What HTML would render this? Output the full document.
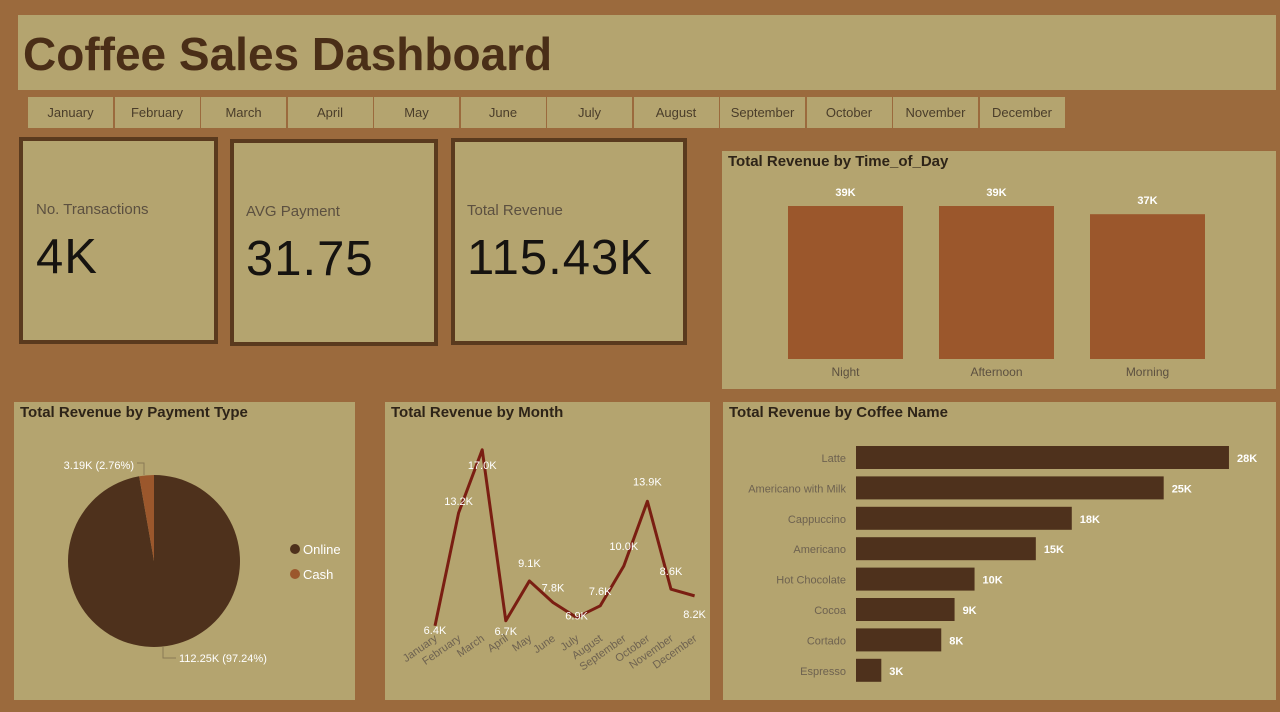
<!DOCTYPE html>
<html><head><meta charset="utf-8">
<style>
body{margin:0;width:1280px;height:712px;background:#9b6a3d;font-family:"Liberation Sans","DejaVu Sans",sans-serif;position:relative;overflow:hidden}
.p{position:absolute;background:#b4a46f;box-sizing:border-box}
.t{position:absolute;font-size:15px;color:#2e2418;font-weight:bold;left:6px;top:2px}
.kpi{position:absolute;background:#b4a46f;border:4px solid #5a3a1e;box-sizing:border-box}
.kl{position:absolute;font-size:15px;color:#5c5040}
.kv{position:absolute;font-size:49px;color:#161310;font-family:"Liberation Sans",sans-serif;transform:scaleX(1.0);transform-origin:left top;letter-spacing:1px}
.mb{position:absolute;top:97px;height:31px;width:85px;background:#b4a46f;font-size:13px;color:#4a3d2a;text-align:center;line-height:31px}
svg text{font-family:"Liberation Sans",sans-serif}
</style></head><body>
<div class="p" style="left:18px;top:15px;width:1258px;height:75px">
<div style="position:absolute;left:5px;top:12px;font-size:46px;font-weight:bold;color:#4a2e17">Coffee Sales Dashboard</div></div>
<div id="months"></div>
<div class="kpi" style="left:19px;top:137px;width:199px;height:207px"><div class="kl" style="left:13px;top:60px">No. Transactions</div><div class="kv" style="left:13px;top:88px">4K</div></div>
<div class="kpi" style="left:230px;top:139px;width:208px;height:207px"><div class="kl" style="left:12px;top:60px">AVG Payment</div><div class="kv" style="left:12px;top:88px">31.75</div></div>
<div class="kpi" style="left:451px;top:138px;width:236px;height:207px"><div class="kl" style="left:12px;top:60px">Total Revenue</div><div class="kv" style="left:12px;top:88px">115.43K</div></div>

<div class="p" style="left:722px;top:151px;width:554px;height:238px"><div class="t">Total Revenue by Time_of_Day</div></div>
<div class="p" style="left:14px;top:402px;width:341px;height:298px"><div class="t">Total Revenue by Payment Type</div></div>
<div class="p" style="left:385px;top:402px;width:325px;height:298px"><div class="t">Total Revenue by Month</div></div>
<div class="p" style="left:723px;top:402px;width:553px;height:298px"><div class="t">Total Revenue by Coffee Name</div></div>

<svg id="chart" width="1280" height="712" style="position:absolute;left:0;top:0"></svg>
<script>
const monthNames=["January","February","March","April","May","June","July","August","September","October","November","December"];
const todCats=["Night","Afternoon","Morning"];
const todVals=[39.2,39.2,37.1];
const todLabels=["39K","39K","37K"];
const payCats=["Online","Cash"];
const payVals=[112.25,3.19];
const payLabels=["112.25K (97.24%)","3.19K (2.76%)"];
const monthVals=[6.4,13.2,17.0,6.7,9.1,7.8,6.9,7.6,10.0,13.9,8.6,8.2];
const monthLabels=["6.4K","13.2K","17.0K","6.7K","9.1K","7.8K","6.9K","7.6K","10.0K","13.9K","8.6K","8.2K"];
const coffeeCats=["Latte","Americano with Milk","Cappuccino","Americano","Hot Chocolate","Cocoa","Cortado","Espresso"];
const coffeeVals=[28,23.1,16.2,13.5,8.9,7.4,6.4,1.9];
const coffeeLabels=["28K","25K","18K","15K","10K","9K","8K","3K"];

const NS="http://www.w3.org/2000/svg",svg=document.getElementById('chart');
function mk(tag,attrs,text){const e=document.createElementNS(NS,tag);for(const k in attrs)e.setAttribute(k,attrs[k]);if(text!==undefined)e.textContent=text;svg.appendChild(e);return e;}

const mc=document.getElementById('months');
monthNames.forEach((m,i)=>{const d=document.createElement('div');d.className='mb';d.style.left=(28+i*86.5)+'px';d.textContent=m;


mc.appendChild(d);});

const todY=v=>359-v*(153/39.2);
todCats.forEach((c,i)=>{const x=788+i*151;
const r=mk('rect',{x:x,y:todY(todVals[i]),width:115,height:359-todY(todVals[i]),fill:'#9b572c'});


const l=mk('text',{x:x+57.5,y:todY(todVals[i])-10,'font-size':11,fill:'#fff','text-anchor':'middle','font-weight':'bold'},todLabels[i]);


const t=mk('text',{x:x+57.5,y:376,'font-size':12,fill:'#5c5040','text-anchor':'middle'},c);

});

const cx=154,cy=561,R=86,tot=payVals.reduce((a,b)=>a+b,0);const cols=['#4e311c','#9b572c'];
let a0=0;payVals.forEach((v,i)=>{const a1=a0+v/tot*2*Math.PI;
const p=(a)=>[cx+R*Math.sin(a),cy-R*Math.cos(a)];const s=p(a0),e=p(a1);
const path=mk('path',{d:`M${cx},${cy}L${s[0]},${s[1]}A${R},${R} 0 ${a1-a0>Math.PI?1:0} 1 ${e[0]},${e[1]}Z`,fill:cols[i]});


a0=a1;});
mk('polyline',{points:'144,475 144,463 137,463',fill:'none',stroke:'#8a7a55','stroke-width':1});
mk('polyline',{points:'163,647 163,658 176,658',fill:'none',stroke:'#8a7a55','stroke-width':1});
const pl1=mk('text',{x:134,y:469,'font-size':11,fill:'#fff','text-anchor':'end'},payLabels[1]);


const pl0=mk('text',{x:179,y:662,'font-size':11,fill:'#fff'},payLabels[0]);


payCats.forEach((c,i)=>{const y=549+i*25;
const d=mk('circle',{cx:295,cy:y,r:5,fill:cols[i]});


const t=mk('text',{x:303,y:y+5,'font-size':13,fill:'#fff'},c);

});

const mx=i=>435+i*23.6,my=v=>732-v*16.6;
const line=mk('polyline',{points:monthVals.map((v,i)=>mx(i)+','+my(v)).join(' '),fill:'none',stroke:'#7a1e12','stroke-width':3,'stroke-linejoin':'round'});


const off=[[0,4],[0,-12],[0,15],[0,10],[0,-18],[0,-15],[0,-2],[0,-15],[0,-20],[0,-20],[0,-18],[0,18]];
monthVals.forEach((v,i)=>{const t=mk('text',{x:mx(i)+off[i][0],y:my(v)+off[i][1]+4,'font-size':11,fill:'#fff','text-anchor':'middle'},monthLabels[i]);


const x=mk('text',{x:mx(i)+3,y:640,'font-size':11,fill:'#6e6250','text-anchor':'end',transform:`rotate(-35 ${mx(i)+3} 640)`},monthNames[i]);

});

const bx=v=>856+v*13.32;
coffeeCats.forEach((c,i)=>{const y=446+i*30.4;
const r=mk('rect',{x:856,y:y,width:bx(coffeeVals[i])-856,height:23,fill:'#4e311c'});


const t=mk('text',{x:846,y:y+16,'font-size':11,fill:'#6e6250','text-anchor':'end'},c);


const l=mk('text',{x:bx(coffeeVals[i])+8,y:y+16,'font-size':11,fill:'#fff','font-weight':'bold'},coffeeLabels[i]);

});
</script>
</body></html>
